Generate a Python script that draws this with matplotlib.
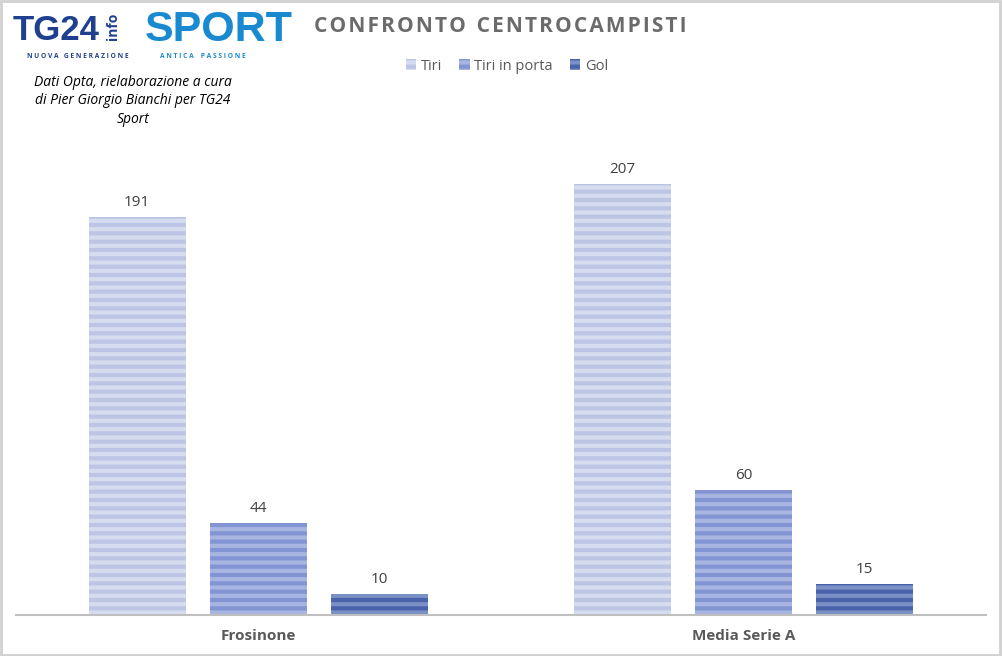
import numpy as np
import matplotlib
matplotlib.use("Agg")
import matplotlib.pyplot as plt
from matplotlib.patches import Rectangle

categories = ["Frosinone", "Media Serie A"]
series_names = ["Tiri", "Tiri in porta", "Gol"]
tiri = [191, 207]
tiri_in_porta = [44, 60]
gol = [10, 15]

base_colors = ["#bcc5e5", "#8295d2", "#4863aa"]
stripe_colors = ["#d6dcf0", "#a8b5e1", "#7a90c6"]

plt.rcParams["font.family"] = ["Open Sans", "DejaVu Sans"]
plt.rcParams["hatch.linewidth"] = 3.0

W, H = 1002, 656
fig = plt.figure(figsize=(W / 100, H / 100), dpi=100)

# axes box in pixels: x 16..986, baseline at y=615
ax = fig.add_axes([16 / W, (H - 615) / H, 970 / W, 521 / H])
ax.set_xlim(-0.5, 1.5)
ax.set_ylim(0, 250)

x = np.arange(len(categories))
width = 0.2
offsets = [-0.25, 0, 0.25]
values = [tiri, tiri_in_porta, gol]

for i, vals in enumerate(values):
    bars = ax.bar(x + offsets[i], vals, width, color=base_colors[i],
                  edgecolor=stripe_colors[i], linewidth=0, hatch="--",
                  label=series_names[i])
    for b, v in zip(bars, vals):
        ax.annotate(str(v), (b.get_x() + b.get_width() / 2, v),
                    xytext=(0, 5), textcoords="offset points",
                    ha="center", va="bottom", fontsize=11, color="#404040")

for s in ["top", "right", "left"]:
    ax.spines[s].set_visible(False)
ax.spines["bottom"].set_color("#bfbfbf")
ax.spines["bottom"].set_linewidth(1.5)
ax.set_yticks([])
ax.set_xticks(x)
ax.set_xticklabels(categories, fontsize=11, fontweight="bold", color="#595959")
ax.tick_params(axis="x", length=0, pad=10)

# title, letter-spaced
title = "CONFRONTO CENTROCAMPISTI"
spaced = "  ".join("\u200a".join(w) for w in title.split())
fig.text(500 / W, 1 - 27 / H, spaced, ha="center", va="center",
         fontsize=15, fontweight="bold", color="#6b6b6b")

# legend
handles = [Rectangle((0, 0), 1, 1, facecolor=base_colors[i], edgecolor=stripe_colors[i],
                     linewidth=0, hatch="--") for i in range(3)]
fig.legend(handles, series_names, loc="center", bbox_to_anchor=(507 / W, 1 - 66 / H),
           ncol=3, frameon=False, fontsize=10.5, handlelength=0.7, handleheight=0.7,
           handletextpad=0.3, columnspacing=1.2, labelcolor="#595959")

# logo as text
fig.text(13 / W, 1 - 30 / H, "TG24", fontsize=25, fontweight="bold", color="#1f3f8f",
         ha="left", va="center", family=["Liberation Sans", "DejaVu Sans"])
fig.text(106 / W, 1 - 26 / H, "info", fontsize=10, fontweight="bold", color="#1f3f8f",
         ha="left", va="center", rotation=90)
fig.text(145 / W, 1 - 30 / H, "SPORT", fontsize=31, fontweight="bold", color="#1a8ad0",
         ha="left", va="center", family=["Liberation Sans", "DejaVu Sans"])
fig.text(27 / W, 1 - 56 / H, "N U O V A   G E N E R A Z I O N E", fontsize=4.8,
         color="#1f3f8f", ha="left", va="center", fontweight="bold")
fig.text(160 / W, 1 - 56 / H, "A N T I C A    P A S S I O N E", fontsize=4.8,
         color="#1a8ad0", ha="left", va="center", fontweight="bold")

fig.text(133 / W, 1 - 101 / H,
         "Dati Opta, rielaborazione a cura\ndi Pier Giorgio Bianchi per TG24\nSport",
         ha="center", va="center", fontsize=10, style="italic", color="#000000",
         linespacing=1.3)

# outer border
fig.patches.append(Rectangle((0.001, 0.002), 0.997, 0.996, transform=fig.transFigure,
                             fill=False, edgecolor="#d0d0d0", linewidth=2))

fig.savefig("out.png", dpi=100)
